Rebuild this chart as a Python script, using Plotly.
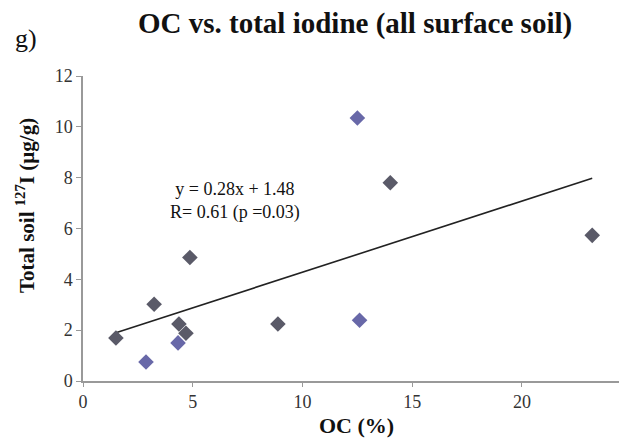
import plotly.graph_objects as go

# data
oc_gray = [1.5, 3.24, 4.37, 4.69, 4.87, 8.88, 14.0, 23.2]
iod_gray = [1.69, 3.02, 2.24, 1.88, 4.86, 2.24, 7.8, 5.73]
oc_blue = [2.87, 4.33, 12.6, 12.5]
iod_blue = [0.75, 1.5, 2.39, 10.35]
slope, intercept = 0.28, 1.48
fit_x = [1.5, 23.2]
fit_y = [slope * v + intercept for v in fit_x]
x_ticks = [0, 5, 10, 15, 20]
y_ticks = [0, 2, 4, 6, 8, 10, 12]

FONT = "Liberation Serif"
W, H = 619, 439
L, R, T, B = 83, 0, 76, 58
PW, PH = W - L - R, H - T - B


def px(x, y):
    return (x - L) / PW, 1 - (y - T) / PH


fig = go.Figure()
fig.add_trace(go.Scatter(x=fit_x, y=fit_y, mode="lines",
                         line=dict(color="#222222", width=1.6), showlegend=False))
fig.add_trace(go.Scatter(x=oc_gray, y=iod_gray, mode="markers",
                         marker=dict(symbol="diamond", size=12, color="#5a5a68"),
                         showlegend=False))
fig.add_trace(go.Scatter(x=oc_blue, y=iod_blue, mode="markers",
                         marker=dict(symbol="diamond", size=12, color="#6868a8"),
                         showlegend=False))

ann = []


def add(text, x, y, size, angle=0, color="#111111"):
    ax, ay = px(x, y)
    ann.append(dict(text=text, x=ax, y=ay, xref="paper", yref="paper", showarrow=False,
                    xanchor="center", yanchor="middle", textangle=angle, align="center",
                    font=dict(size=size, family=FONT, color=color)))


add("<b>OC vs. total iodine (all surface soil)</b>", 355, 24, 29)
add("g)", 26, 39, 26)
add("<b>OC (%)</b>", 356, 425, 22)
add("<b>Total soil <sup>127</sup>I (µg/g)</b>", 25, 206, 21, angle=-90)
add("y = 0.28x + 1.48<br>R= 0.61 (p =0.03)", 235, 201, 18)

fig.update_layout(
    width=W, height=H,
    margin=dict(l=L, r=R, t=T, b=B, autoexpand=False),
    paper_bgcolor="white", plot_bgcolor="white",
    font=dict(family=FONT, color="#222222"),
    xaxis=dict(range=[0, 24.42], tickvals=x_ticks, showgrid=False, zeroline=False,
               showline=True, linecolor="#999999", linewidth=1.5,
               ticks="outside", ticklen=4, tickcolor="#999999",
               tickfont=dict(size=18, family=FONT, color="#333333")),
    yaxis=dict(range=[0, 12], tickvals=y_ticks, showgrid=False, zeroline=False,
               showline=True, linecolor="#999999", linewidth=1.5,
               ticks="outside", ticklen=5, tickcolor="#999999",
               tickfont=dict(size=18, family=FONT, color="#333333")),
    annotations=ann,
)
fig.write_html("out.html", config={"displayModeBar": False},
               post_script="document.body.style.margin='0';")
